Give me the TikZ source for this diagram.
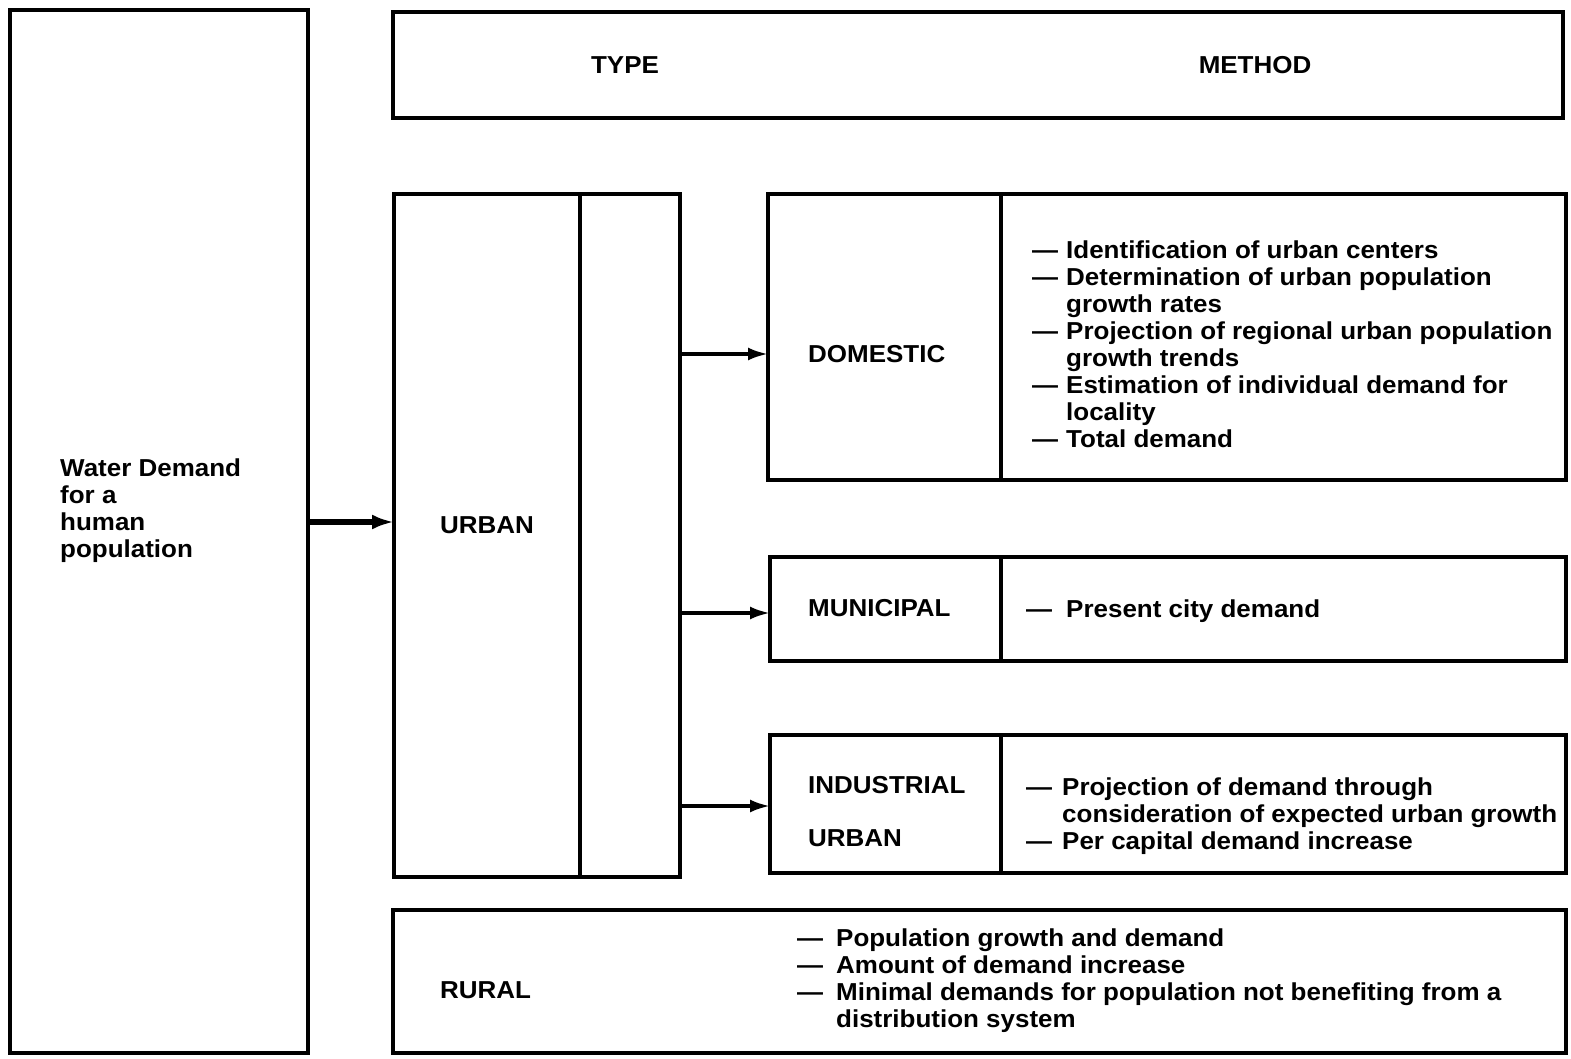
\documentclass[tikz,border=0pt]{standalone}
\usepackage{fontspec}
\setmainfont{Liberation Sans}[FakeStretch=1.06]
\usetikzlibrary{arrows.meta}

% list entries with a hanging dash; the optional argument is the indent
\newcommand{\dashitem}[2][34pt]{\makebox[#1][l]{—}#2}
\newcommand{\contline}[2][34pt]{\hspace*{#1}#2}

\begin{document}
\begin{tikzpicture}[x=1pt,y=-1pt,
  box/.style={draw, line width=3.4pt, inner sep=0pt, outer sep=0pt, anchor=north west},
  divider/.style={line width=3.4pt},
  txt/.style={inner sep=0pt, font=\fontsize{24.5}{27}\selectfont\bfseries},
  listtxt/.style={txt, align=left, anchor=north west},
  arr/.style={line width=3.4pt, -{Latex[length=20pt,width=13pt]}},
  thickarr/.style={line width=5.5pt, -{Latex[length=22pt,width=15pt]}}]

\useasboundingbox (0,0) rectangle (1571,1059);

% outer source box
\node[box, minimum width=298pt, minimum height=1043pt] (demand) at (10,10) {};
\node[listtxt] (demandtxt) at (60,459)
  {Water Demand\\for a\\human\\population};

% header row
\node[box, minimum width=1170pt, minimum height=106pt] (header) at (393,12) {};
\node[txt] (typelbl) at (625,65) {TYPE};
\node[txt] (methodlbl) at (1255,65) {METHOD};

% urban column
\node[box, minimum width=286pt, minimum height=683pt] (urban) at (394,194) {};
\draw[divider] ([xshift=186pt]urban.north west) -- ([xshift=186pt]urban.south west);
\node[txt, anchor=west] (urbanlbl) at (440,525) {URBAN};

% domestic
\node[box, minimum width=798pt, minimum height=286pt] (domestic) at (768,194) {};
\draw[divider] ([xshift=233pt]domestic.north west) -- ([xshift=233pt]domestic.south west);
\node[txt, anchor=west] (domesticlbl) at (808,354) {DOMESTIC};
\node[listtxt] (domesticlist) at (1032,241) {%
  \dashitem{Identification of urban centers}\\
  \dashitem{Determination of urban population}\\
  \contline{growth rates}\\
  \dashitem{Projection of regional urban population}\\
  \contline{growth trends}\\
  \dashitem{Estimation of individual demand for}\\
  \contline{locality}\\
  \dashitem{Total demand}};

% municipal
\node[box, minimum width=796pt, minimum height=104pt] (municipal) at (770,557) {};
\draw[divider] ([xshift=231pt]municipal.north west) -- ([xshift=231pt]municipal.south west);
\node[txt, anchor=west] (municipallbl) at (808,608) {MUNICIPAL};
\node[txt, anchor=base west] (municipallist) at (1026,617)
  {\dashitem[40pt]{Present city demand}};

% industrial
\node[box, minimum width=796pt, minimum height=138pt] (industrial) at (770,735) {};
\draw[divider] ([xshift=231pt]industrial.north west) -- ([xshift=231pt]industrial.south west);
\node[txt, anchor=west] (industriallbl) at (808,785) {INDUSTRIAL};
\node[txt, anchor=west] (industrialurb) at (808,838) {URBAN};
\node[listtxt] (industriallist) at (1026,778) {%
  \dashitem[36pt]{Projection of demand through}\\
  \contline[36pt]{consideration of expected urban growth}\\
  \dashitem[36pt]{Per capital demand increase}};

% rural
\node[box, minimum width=1173pt, minimum height=143pt] (rural) at (393,910) {};
\node[txt, anchor=west] (rurallbl) at (440,990) {RURAL};
\node[listtxt] (rurallist) at (797,929) {%
  \dashitem[39pt]{Population growth and demand}\\
  \dashitem[39pt]{Amount of demand increase}\\
  \dashitem[39pt]{Minimal demands for population not benefiting from a}\\
  \contline[39pt]{distribution system}};

% connectors
\draw[thickarr] (demand.east |- 0,522) -- (urban.west |- 0,522);
\draw[arr] (urban.east |- 0,354) -- (domestic.west |- 0,354);
\draw[arr] (urban.east |- 0,613) -- (municipal.west |- 0,613);
\draw[arr] (urban.east |- 0,806) -- (industrial.west |- 0,806);
\end{tikzpicture}
\end{document}
